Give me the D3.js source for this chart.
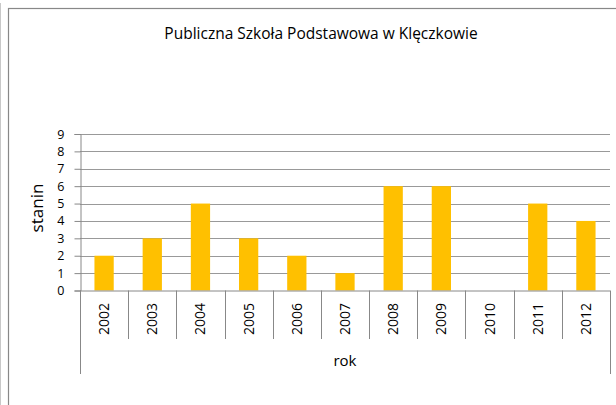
<!DOCTYPE html>
<html>
<head>
<meta charset="utf-8">
<script src="https://cdn.jsdelivr.net/npm/d3@7"></script>
<style>
  body { margin: 0; background: #fff; }
  text { font-family: "Open Sans", sans-serif; fill: #000; }
</style>
</head>
<body>
<script>
var years = ["2002", "2003", "2004", "2005", "2006", "2007", "2008", "2009", "2010", "2011", "2012"];
var stanin = [2, 3, 5, 3, 2, 1, 6, 6, null, 5, 4];
var yTicks = [0, 1, 2, 3, 4, 5, 6, 7, 8, 9];
var title = "Publiczna Szkoła Podstawowa w Klęczkowie";

var width = 616;
var height = 405;
var plotLeft = 80, plotRight = 610, plotTop = 134, plotBottom = 290.5;

var svg = d3.select("body").append("svg")
            .attr("width", width)
            .attr("height", height);

// chart frame
svg.append("line").attr("x1", 0.5).attr("x2", 0.5).attr("y1", 3).attr("y2", height)
   .attr("stroke", "#c8c8c8").attr("stroke-width", 1);
svg.append("rect").attr("x", 8.5).attr("y", 8.5).attr("width", 620).attr("height", 420)
   .attr("fill", "none").attr("stroke", "#888").attr("stroke-width", 1.2);

var x = d3.scaleBand().domain(years).range([plotLeft, plotRight]).paddingInner(0.6).paddingOuter(0.3);
var y = d3.scaleLinear().domain([0, 9]).range([plotBottom, plotTop]);

// gridlines
svg.selectAll("line.grid")
    .data(yTicks.slice(1))
    .enter()
    .append("line")
    .attr("class", "grid")
    .attr("x1", plotLeft).attr("x2", plotRight)
    .attr("y1", function(d) { return Math.round(y(d)) + 0.5; })
    .attr("y2", function(d) { return Math.round(y(d)) + 0.5; })
    .attr("stroke", "#999").attr("stroke-width", 1);

// bars
svg.selectAll("rect.bar")
    .data(stanin.map(function(v, i) { return {year: years[i], v: v}; }).filter(function(d) { return d.v != null; }))
    .enter()
    .append("rect")
    .attr("class", "bar")
    .attr("x", function(d) { return x(d.year); })
    .attr("y", function(d) { return y(d.v); })
    .attr("width", x.bandwidth())
    .attr("height", function(d) { return y(0) - y(d.v); })
    .attr("fill", "#ffc000");

// y axis
var yAxis = svg.append("g")
    .attr("transform", "translate(" + (plotLeft + 0.5) + ",0)")
    .call(d3.axisLeft(y).tickValues(yTicks).tickSize(6).tickPadding(10));
yAxis.select(".domain").attr("stroke", "#888");
yAxis.selectAll(".tick line").attr("stroke", "#888");
yAxis.selectAll("text").attr("font-size", "12.5px").attr("font-family", "Open Sans, sans-serif");

// x axis with long category dividers
var step = x.step();
var xg = svg.append("g");
xg.append("line").attr("x1", plotLeft).attr("x2", plotRight)
  .attr("y1", y(0) + 0.5).attr("y2", y(0) + 0.5).attr("stroke", "#888");
var dividers = d3.range(years.length + 1).map(function(i) { return plotLeft + i * step; });
xg.selectAll("line.div")
    .data(dividers)
    .enter()
    .append("line")
    .attr("x1", function(d) { return Math.round(d) + 0.5; })
    .attr("x2", function(d) { return Math.round(d) + 0.5; })
    .attr("y1", y(0))
    .attr("y2", function(d, i) { return (i === 0 || i === years.length) ? 374 : 339; })
    .attr("stroke", "#888");

xg.selectAll("text.year")
    .data(years)
    .enter()
    .append("text")
    .attr("class", "year")
    .attr("transform", function(d) { return "translate(" + (x(d) + x.bandwidth() / 2 + 5) + ",303) rotate(-90)"; })
    .attr("text-anchor", "end")
    .attr("font-size", "14px")
    .text(function(d) { return d; });

// labels
svg.append("text")
    .attr("x", 321).attr("y", 39)
    .attr("text-anchor", "middle")
    .attr("font-size", "15.5px")
    .text(title);

svg.append("text")
    .attr("transform", "translate(43,208) rotate(-90)")
    .attr("text-anchor", "middle")
    .attr("font-size", "17px")
    .text("stanin");

svg.append("text")
    .attr("x", (plotLeft + plotRight) / 2).attr("y", 366)
    .attr("text-anchor", "middle")
    .attr("font-size", "15px")
    .text("rok");
</script>
</body>
</html>
